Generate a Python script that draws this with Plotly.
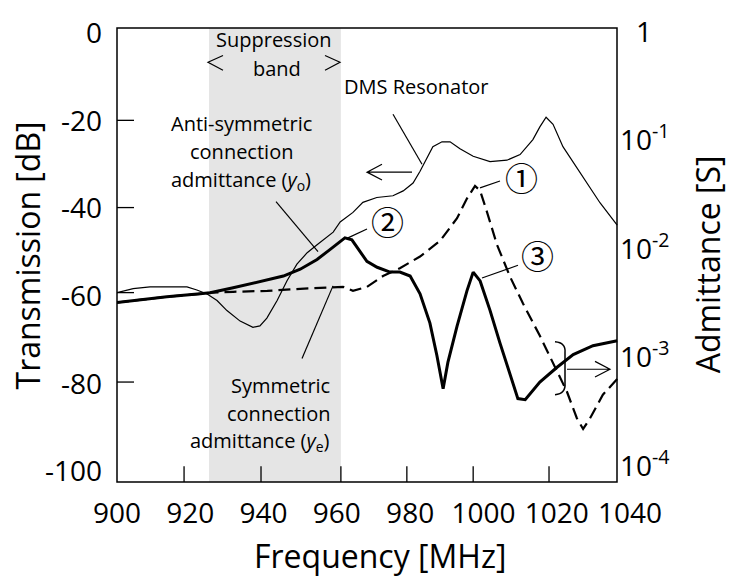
import plotly.graph_objects as go

# ---------------- data ----------------
# DMS resonator transmission (left axis, dB)
f_dms = [900.0, 904.4, 909.0, 913.6, 919.1, 921.8, 924.6, 927.3, 930.0, 933.6, 937.1, 939.0,
         940.9, 943.7, 946.4, 949.1, 951.9, 954.6, 959.0, 960.9, 964.4, 967.1, 970.9, 975.3,
         978.1, 980.8, 982.7, 986.2, 988.7, 990.9, 993.6, 997.2, 1001.8, 1006.4, 1010.0,
         1013.5, 1015.4, 1017.1, 1019.0, 1021.7, 1026.4, 1031.8, 1036.5]
db_dms = [-59.2, -58.3, -57.9, -57.9, -57.9, -58.6, -59.5, -61.0, -63.3, -65.7, -67.1, -66.8,
          -65.0, -61.0, -56.5, -52.7, -50.1, -48.3, -45.4, -43.1, -40.9, -38.6, -37.5, -37.1,
          -36.0, -34.2, -31.5, -25.9, -24.8, -24.8, -26.4, -28.1, -29.3, -29.0, -27.7,
          -24.3, -21.4, -19.2, -20.8, -25.9, -32.0, -38.7, -43.8]

# Anti-symmetric connection admittance y_o (right axis, S)
f_yo = [900.0, 904.4, 913.6, 922.7, 925.4, 931.7, 936.3, 941.0, 945.4, 950.0, 954.6, 958.1,
        961.7, 962.2, 964.1, 966.3, 968.2, 971.0, 974.5, 977.2, 980.0, 982.7, 985.4, 987.3,
        989.0, 990.3, 992.8, 995.5, 997.2, 999.1, 1001.8, 1004.5, 1007.3, 1009.4, 1011.4,
        1015.4, 1020.1, 1024.5, 1029.9, 1036.5]
y_o = [3.20e-3, 3.33e-3, 3.62e-3, 3.85e-3, 3.94e-3, 4.37e-3, 4.74e-3, 5.16e-3, 5.61e-3, 6.49e-3,
       7.98e-3, 9.84e-3, 1.236e-2, 1.262e-2, 1.211e-2, 9.42e-3, 7.66e-3, 6.76e-3, 6.10e-3,
       6.10e-3, 5.61e-3, 3.85e-3, 2.07e-3, 1.04e-3, 5.13e-4, 8.99e-4, 1.94e-3, 4.10e-3,
       6.10e-3, 5.06e-3, 2.71e-3, 1.36e-3, 6.85e-4, 4.17e-4, 4.08e-4, 5.93e-4, 8.11e-4,
       1.06e-3, 1.28e-3, 1.42e-3]

# Symmetric connection admittance y_e (right axis, S)
f_ye = [900.0, 904.4, 913.6, 922.7, 925.4, 931.7, 941.0, 950.0, 959.0, 961.7, 964.4, 968.2,
        972.6, 977.2, 982.7, 988.2, 992.8, 995.5, 997.7, 999.1, 1001.0, 1003.7, 1007.3,
        1010.8, 1015.4, 1019.0, 1022.8, 1025.5, 1027.2, 1029.1, 1032.6, 1036.5]
y_e = [3.20e-3, 3.33e-3, 3.62e-3, 3.85e-3, 3.94e-3, 4.02e-3, 4.10e-3, 4.28e-3, 4.46e-3, 4.46e-3,
       4.10e-3, 4.46e-3, 5.61e-3, 6.62e-3, 8.49e-3, 1.186e-2, 1.914e-2, 2.90e-2, 3.80e-2,
       3.43e-2, 2.17e-2, 1.09e-2, 5.50e-3, 3.13e-3, 1.58e-3, 8.99e-4, 4.82e-4, 2.75e-4,
       2.19e-4, 2.75e-4, 4.53e-4, 6.31e-4]

band = [925.1, 961.1]  # suppression band, MHz

x_ticks = [900, 920, 940, 960, 980, 1000, 1020, 1040]
x_tick_marks = [918.3, 939.3, 961.1, 979.1, 997.2, 1017.9]
db_ticks = [0, -20, -40, -60, -80, -100]
db_text = ["0", "-20", "-40", "-60", "-80", "-100"]
db_tick_marks = [-19.9, -39.8, -59.2, -79.6]
adm_ticks = [1, 0.1, 0.01, 0.001, 0.0001]
adm_text = ["\u20071", "10<sup>-1</sup>", "10<sup>-2</sup>", "10<sup>-3</sup>", "10<sup>-4</sup>"]

# ---------------- geometry helpers ----------------
W, H = 729, 577
L_PX, R_PX, T_PX, B_PX = 117, 630, 19, 482   # plot area (x axis 900..1040)
FRAME_R = 617                                # right frame line
def px(x, y):
    return (x - L_PX) / (R_PX - L_PX), (B_PX - y) / (B_PX - T_PX)

def path(points):
    segs = []
    for seg in points:
        s = ""
        for i, (x, y) in enumerate(seg):
            xp, yp = px(x, y)
            s += ("M" if i == 0 else "L") + f"{xp:.5f},{yp:.5f} "
        segs.append(s)
    return " ".join(segs)

FONT = "Open Sans"
fig = go.Figure()

fig.add_trace(go.Scatter(x=f_dms, y=db_dms, mode="lines", yaxis="y",
                         line=dict(color="black", width=1.2), showlegend=False))
fig.add_trace(go.Scatter(x=f_ye, y=y_e, mode="lines", yaxis="y2",
                         line=dict(color="black", width=2.2, dash="12px,6px"), showlegend=False))
fig.add_trace(go.Scatter(x=f_yo, y=y_o, mode="lines", yaxis="y2",
                         line=dict(color="black", width=3), showlegend=False))

fx = (FRAME_R - L_PX) / (R_PX - L_PX)
shapes = [
    dict(type="rect", xref="x", yref="paper", x0=band[0], x1=band[1], y0=0, y1=1,
         fillcolor="#e5e5e5", line=dict(width=0), layer="below"),
    dict(type="rect", xref="paper", yref="paper", x0=0, x1=fx, y0=0, y1=1,
         line=dict(color="black", width=1.5)),
]
# inside tick marks
for v in x_tick_marks:
    shapes.append(dict(type="line", xref="x", yref="paper", x0=v, x1=v, y0=0,
                       y1=16 / (B_PX - T_PX), line=dict(color="black", width=1.3)))
for v in db_tick_marks:
    shapes.append(dict(type="line", xref="paper", yref="y", x0=0, x1=17 / (R_PX - L_PX),
                       y0=v, y1=v, line=dict(color="black", width=1.3)))

thin = [
    [[(393, 107), (422, 158)]],                       # DMS leader
    [[(276, 196), (318, 247)]],                       # anti-symmetric leader
    [[(302, 356), (333, 282)]],                       # symmetric leader
    [[(500, 175), (480, 182)]],                       # 1 leader
    [[(367, 224), (348, 233)]],                       # 2 leader
    [[(518, 261), (482, 274)]],                       # 3 leader
    [[(412, 166), (367, 166)], [(382, 158), (367, 166), (382, 174)]],   # left arrow
    [[(567, 367), (610, 367)], [(595, 359), (610, 367), (595, 375)]],   # right arrow
    [[(223, 47), (208, 54), (223, 62)]],              # <
    [[(325, 47), (340, 54), (325, 62)]],              # >
]
for p in thin:
    shapes.append(dict(type="path", xref="paper", yref="paper", path=path(p),
                       line=dict(color="black", width=1.2)))
# bracket around the admittance curves
bx0, by0 = px(555, 339); bx1, by1 = px(565, 350); bx2, by2 = px(565, 381); bx3, by3 = px(555, 393)
cx0, cy0 = px(566, 340); cx1, cy1 = px(566, 392)
shapes.append(dict(type="path", xref="paper", yref="paper",
                   path=f"M{bx0},{by0} Q{cx0},{cy0} {bx1},{by1} L{bx2},{by2} Q{cx1},{cy1} {bx3},{by3}",
                   line=dict(color="black", width=1.5)))

ann = []
def text(t, x, y, size=20, xanchor="center", angle=0, family=FONT):
    xp, yp = px(x, y)
    ann.append(dict(text=t, x=xp, y=yp, xref="paper", yref="paper", showarrow=False,
                    xanchor=xanchor, yanchor="middle", textangle=angle,
                    font=dict(family=family, size=size, color="black")))

text("Suppression", 274, 31)
text("band", 277, 60)
text("DMS Resonator", 416, 79)
text("Anti-symmetric", 241, 116)
text("connection", 241, 145)
text("admittance (<i>y</i><sub>o</sub>)", 241, 175)
text("Symmetric", 332, 384, xanchor="right")
text("connection", 332, 412, xanchor="right")
text("admittance (<i>y</i><sub>e</sub>)", 332, 441, xanchor="right")
text("\u2460", 521, 171, size=33, family="Noto Sans CJK JP")
text("\u2461", 387, 216, size=33, family="Noto Sans CJK JP")
text("\u2462", 537, 250, size=33, family="Noto Sans CJK JP")
text("Frequency [MHz]", 380, 557, size=32)
text("Transmission [dB]", 27, 251, size=32, angle=-90)
text("Admittance [S]", 707, 260, size=32, angle=-90)

tickfont = dict(family=FONT, size=28, color="black")
fig.update_layout(
    width=W, height=H, autosize=False,
    margin=dict(l=L_PX, r=W - R_PX, t=T_PX, b=H - B_PX, pad=0),
    paper_bgcolor="white", plot_bgcolor="rgba(0,0,0,0)",
    showlegend=False,
    xaxis=dict(range=[900, 1040], tickmode="array", tickvals=x_ticks, ticks="",
               showline=False, showgrid=False, zeroline=False, tickfont=tickfont,
               ticklabelstandoff=12),
    yaxis=dict(range=[-102.4, 1.16], tickmode="array", tickvals=db_ticks, ticktext=db_text,
               ticks="", showline=False, showgrid=False, zeroline=False, tickfont=tickfont,
               ticklabelstandoff=14),
    yaxis2=dict(type="log", range=[-4.148, 0.034], overlaying="y", side="right",
                anchor="free", position=fx, tickmode="array", tickvals=adm_ticks,
                ticktext=adm_text, ticks="", showline=False, showgrid=False,
                zeroline=False, tickfont=tickfont, ticklabelstandoff=2),
    shapes=shapes, annotations=ann,
)

fig.write_html("out.html")
